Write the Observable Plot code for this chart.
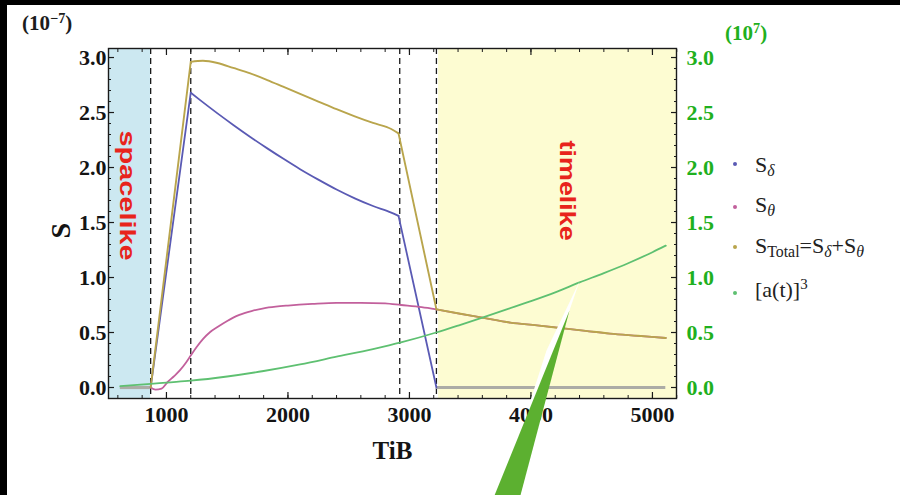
<!DOCTYPE html>
<html>
<head>
<meta charset="utf-8">
<script src="https://cdn.jsdelivr.net/npm/d3@7"></script>
<script src="https://cdn.jsdelivr.net/npm/@observablehq/plot@0.6"></script>
<style>
html, body { margin: 0; padding: 0; background: #000; }
#wrap { position: relative; width: 900px; height: 495px; background: #000; overflow: hidden; }
#chart { position: absolute; left: 7px; top: 5px; width: 893px; height: 490px; background: #fff; }
.ov { position: absolute; white-space: nowrap; line-height: 1; font-family: "Liberation Serif", "Times New Roman", serif; }
.unit { font-weight: bold; font-size: 21px; }
.unit sup { font-size: 0.68em; position: relative; top: -0.5em; vertical-align: baseline; line-height: 0; }
.leg { font-size: 22px; color: #222; }
.leg sub { font-size: 0.72em; position: relative; top: 0.28em; vertical-align: baseline; line-height: 0; }
.leg sup { font-size: 0.68em; position: relative; top: -0.5em; vertical-align: baseline; line-height: 0; }
.dot { position: absolute; width: 4px; height: 4px; border-radius: 50%; }
</style>
</head>
<body>
<div id="wrap">
  <div id="chart"></div>
</div>
<script>
// ---------------- data (TiB on x, values in units of 1e-7 / 1e7) ----------------
const tibDelta = [870, 1200, 1280, 1420, 1550, 1690, 1830, 1960, 2100, 2250, 2400, 2550, 2700, 2850, 2910, 3222];
const sDelta   = [0, 2.68, 2.61, 2.492, 2.387, 2.278, 2.174, 2.081, 1.985, 1.89, 1.80, 1.72, 1.65, 1.59, 1.56, 0];

const tibTheta = [870, 910, 960, 1010, 1060, 1110, 1160, 1200, 1250, 1300, 1360, 1420, 1500, 1550, 1600, 1700, 1800, 1900, 2000, 2200, 2400, 2600, 2800, 2930, 3100, 3222, 3420, 3600, 3830, 4050, 4250, 4450, 4650, 4880, 5110];
const sTheta   = [0, -0.02, -0.01, 0.05, 0.10, 0.155, 0.225, 0.29, 0.37, 0.44, 0.505, 0.55, 0.605, 0.635, 0.66, 0.695, 0.72, 0.735, 0.745, 0.76, 0.77, 0.77, 0.765, 0.75, 0.73, 0.71, 0.67, 0.635, 0.59, 0.565, 0.54, 0.515, 0.49, 0.47, 0.45];

const tibTotal = [870, 1200, 1300, 1420, 1550, 1690, 1830, 1960, 2100, 2250, 2400, 2550, 2700, 2850, 2910, 3222, 3420, 3600, 3830, 4050, 4250, 4450, 4650, 4880, 5110];
const sTotal   = [0, 2.96, 2.97, 2.95, 2.905, 2.855, 2.795, 2.735, 2.67, 2.60, 2.53, 2.465, 2.405, 2.35, 2.31, 0.71, 0.67, 0.635, 0.59, 0.565, 0.54, 0.515, 0.49, 0.47, 0.45];

const tibA = [620, 870, 1000, 1200, 1500, 1800, 2100, 2400, 2700, 2930, 3220, 3420, 3600, 3800, 4000, 4200, 4400, 4600, 4800, 5000, 5110];
const aCubed = [0.012, 0.033, 0.045, 0.062, 0.10, 0.15, 0.21, 0.28, 0.35, 0.41, 0.50, 0.57, 0.635, 0.71, 0.785, 0.865, 0.955, 1.04, 1.13, 1.23, 1.29];

// kinks (TiB) where the curves change regime
const kinks = [870, 1200, 2910, 3222];

// flat zero parts (drawn grey in the original)
const zeroStart = [620, 3222];
const zeroEnd   = [868, 5110];

// dashed boundaries and shaded regions
const boundaries = [870, 1200, 2920, 3222];
const regionNames = ["spacelike", "timelike"];
const regionFrom  = [null, 3240];   // null -> left edge of plot
const regionTo    = [870, null];    // null -> right edge of plot
const regionLabelX = [675, 4300];
const regionLabelY = [1.745, 1.79];

// axis ticks
const yMajor = [0, 0.5, 1.0, 1.5, 2.0, 2.5, 3.0];
const yMinor = d3.range(-1, 31).map(i => i / 10);
const xMajor = [1000, 2000, 3000, 4000, 5000];
const xMinor = d3.range(600, 5201, 200);

// annotation pointer (in data units, tip on the a^3 curve)
const pointerWhite = [[4399, 0.964], [4128, 0.336], [3996, -0.118], [4078, -0.118], [4317, 0.70]];
const pointerGreen = [[4317, 0.70], [3675, -1.05], [3897, -1.05]];

// legend
const seriesColors = ["#5a5ab4", "#c2609c", "#b9a54c", "#5ec071"];

// ---------------- build tables ----------------
// split a series into pieces at the kinks so each smooth piece is curved on its own
function pieces(xs, ys, splits) {
  const rows = [];
  let seg = 0;
  xs.forEach((x, i) => {
    rows.push({x, y: ys[i], z: seg});
    if (splits.includes(x) && i > 0 && i < xs.length - 1) {
      seg++;
      rows.push({x, y: ys[i], z: seg});
    }
  });
  return rows;
}
const dDelta = pieces(tibDelta, sDelta, kinks);
const dTheta = pieces(tibTheta, sTheta, [3222]);
const dTotal = pieces(tibTotal, sTotal, kinks);
const dA     = pieces(tibA, aCubed, []);
const zeros  = zeroStart.map((x1, i) => ({x1, x2: zeroEnd[i]}));

const xDomain = [523, 5198];
const yDomain = [-0.1, 3.082];
const regions = regionNames.map((n, i) => ({
  name: n,
  x1: regionFrom[i] == null ? xDomain[0] : regionFrom[i],
  x2: regionTo[i] == null ? xDomain[1] : regionTo[i],
  lx: regionLabelX[i], ly: regionLabelY[i]
}));
const pw = pointerWhite.map(([x, y]) => ({x, y}));
const pg = pointerGreen.map(([x, y]) => ({x, y}));

const tickFont = {fontSize: 22, fontWeight: "bold"};
const blank = () => "";
const curve = "monotone-x";

const plot = Plot.plot({
  width: 893, height: 490,
  marginLeft: 101, marginTop: 43, marginRight: 224, marginBottom: 97,
  x: {domain: xDomain, label: null},
  y: {domain: yDomain, label: null},
  style: {fontFamily: "'Liberation Serif', 'Times New Roman', serif", background: "#fff", color: "#1a1a1a"},
  marks: [
    Plot.rect(regions.slice(0, 1), {x1: "x1", x2: "x2", y1: yDomain[0], y2: yDomain[1], fill: "#cce8f1"}),
    Plot.rect(regions.slice(1), {x1: "x1", x2: "x2", y1: yDomain[0], y2: yDomain[1], fill: "#fdfcd2"}),
    Plot.ruleX(boundaries, {stroke: "#1a1a1a", strokeWidth: 1.3, strokeDasharray: "6,4"}),
    Plot.ruleY(zeros, {y: 0, x1: "x1", x2: "x2", stroke: "#acaca6", strokeWidth: 3.2}),
    Plot.line(dDelta, {x: "x", y: "y", z: "z", curve, stroke: seriesColors[0], strokeWidth: 1.8}),
    Plot.line(dTheta, {x: "x", y: "y", z: "z", curve, stroke: seriesColors[1], strokeWidth: 1.8}),
    Plot.line(dTotal, {x: "x", y: "y", z: "z", curve, stroke: seriesColors[2], strokeWidth: 1.9}),
    Plot.line(dA, {x: "x", y: "y", z: "z", curve, stroke: seriesColors[3], strokeWidth: 1.8}),
    Plot.text(regions, {x: "lx", y: "ly", text: "name", rotate: 90, fill: "#e8241c",
      fontSize: 22, fontWeight: "bold", fontFamily: "'Liberation Sans', Arial, sans-serif"}),
    // left axis
    Plot.axisY({anchor: "left", ticks: yMinor, tickSize: -3, tickFormat: blank, label: null, strokeWidth: 1}),
    Plot.axisY({anchor: "left", ticks: yMajor, tickSize: -6, tickFormat: blank, label: null, strokeWidth: 1.2}),
    Plot.axisY({anchor: "left", ticks: yMajor, tickSize: 0, tickPadding: 2, tickFormat: d3.format(".1f"), label: null, color: "#141414", ...tickFont}),
    // right axis
    Plot.axisY({anchor: "right", ticks: yMinor, tickSize: -3, tickFormat: blank, label: null, strokeWidth: 1}),
    Plot.axisY({anchor: "right", ticks: yMajor, tickSize: -6, tickFormat: blank, label: null, strokeWidth: 1.2}),
    Plot.axisY({anchor: "right", ticks: yMajor, tickSize: 0, tickPadding: 10, tickFormat: d3.format(".1f"), label: null, color: "#1fb020", ...tickFont}),
    // top axis
    Plot.axisX({anchor: "top", ticks: xMinor, tickSize: -3, tickFormat: blank, label: null, strokeWidth: 1}),
    Plot.axisX({anchor: "top", ticks: xMajor, tickSize: -6, tickFormat: blank, label: null, strokeWidth: 1.2}),
    // bottom axis
    Plot.axisX({anchor: "bottom", ticks: xMinor, tickSize: -3, tickFormat: blank, label: null, strokeWidth: 1}),
    Plot.axisX({anchor: "bottom", ticks: xMajor, tickSize: -6, tickFormat: blank, label: null, strokeWidth: 1.2}),
    Plot.axisX({anchor: "bottom", ticks: xMajor, tickSize: 0, tickPadding: 8, tickFormat: d3.format("d"), label: null, color: "#141414", ...tickFont}),
    Plot.frame({stroke: "#1a1a1a", strokeWidth: 1.4}),
    // axis titles
    Plot.text(["TiB"], {frameAnchor: "bottom", lineAnchor: "bottom", dy: 60, fontSize: 25, fontWeight: "bold", fill: "#141414"}),
    Plot.text(["S"], {frameAnchor: "left", rotate: -90, dx: -47, dy: 15, fontSize: 28, fontWeight: "bold", fill: "#141414"}),
    // pointer annotation
    Plot.line(pw, {x: "x", y: "y", fill: "#ffffff", stroke: "none"}),
    Plot.line(pg, {x: "x", y: "y", fill: "#5cb030", stroke: "none"})
  ]
});
document.getElementById("chart").appendChild(plot);

// stretch the rotated region labels like in the original
const labelLengths = {spacelike: 130, timelike: 100};
plot.querySelectorAll("text").forEach(t => {
  const L = labelLengths[t.textContent];
  if (L) { t.setAttribute("textLength", L); t.setAttribute("lengthAdjust", "spacingAndGlyphs"); }
});

// ---------------- overlays: unit labels and legend ----------------
const wrap = document.getElementById("wrap");
function addDiv(cls, html, left, top, style) {
  const d = document.createElement("div");
  d.className = "ov " + cls;
  d.innerHTML = html;
  d.style.left = left + "px";
  d.style.top = top + "px";
  Object.assign(d.style, style || {});
  wrap.appendChild(d);
  return d;
}
addDiv("unit", "(10<sup>\u22127</sup>)", 22, 13, {color: "#1c1c1c"});
addDiv("unit", "(10<sup>7</sup>)", 725, 23, {color: "#1fb020"});

const legendLabels = [
  "S<sub><i>\u03b4</i></sub>",
  "S<sub><i>\u03b8</i></sub>",
  "S<sub>Total</sub>=S<sub><i>\u03b4</i></sub>+S<sub><i>\u03b8</i></sub>",
  "[a(t)]<sup>3</sup>"
];
const legendBaselines = [172, 212, 253, 297];
const legendDots = [164, 207, 247, 293];
legendLabels.forEach((h, i) => {
  addDiv("leg", h, 755, legendBaselines[i] - 18.4);
  const dot = document.createElement("div");
  dot.className = "dot";
  dot.style.left = (735 - 2) + "px";
  dot.style.top = (legendDots[i] - 2) + "px";
  dot.style.background = seriesColors[i];
  wrap.appendChild(dot);
});
</script>
</body>
</html>
